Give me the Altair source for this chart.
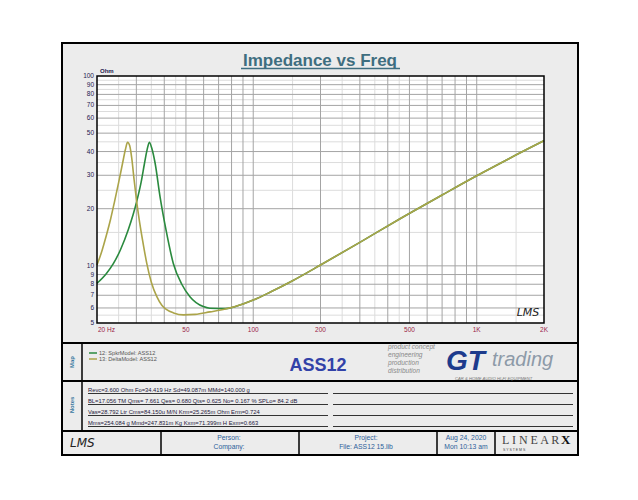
import altair as alt
import pandas as pd

# ---------------- data ----------------
spkr_freq = [20, 22, 23.7, 25.5, 27.6, 29, 30.1, 31.5, 32.6, 33.5, 34.3, 35.2, 36.4, 38.3, 40.7,
             43.9, 47.9, 52.1, 59.8, 64, 75, 90, 100, 120, 150, 200, 300, 450, 700, 1000, 1400, 2000]
spkr_z = [8.1, 9.1, 10.3, 12.2, 15.5, 18.6, 21.8, 27.5, 34.5, 40.8, 44.8, 41.5, 34.7, 23.1, 15.5,
          10.3, 8.0, 6.88, 6.1, 5.98, 5.95, 6.3, 6.6, 7.3, 8.35, 10.1, 13.3, 17.6, 23.6, 29.8, 36.8, 45.6]

delta_freq = [20, 21, 22, 23, 24, 25, 26, 26.8, 27.4, 28, 28.6, 29.3, 30.1, 31.4, 32.4, 33.4,
              35, 37, 39, 41, 44, 48.7, 55, 64, 75, 90, 100, 120, 150, 200, 300, 450, 700, 1000, 1400, 2000]
delta_z = [10.1, 11.9, 14.4, 17.6, 22, 27.5, 34.5, 41, 44.8, 43, 37, 28.5, 21.8, 15.5, 12.5, 10.3,
           8.2, 6.9, 6.2, 5.88, 5.65, 5.52, 5.55, 5.72, 5.92, 6.3, 6.6, 7.3, 8.35, 10.1, 13.3, 17.6, 23.6, 29.8, 36.8, 45.6]

x_major = [30, 40, 50, 60, 70, 80, 90, 100, 200, 300, 400, 500, 600, 700, 800, 900, 1000]
x_minor = [25, 35, 45, 150, 250, 350, 450, 1500]
y_major = [6, 7, 8, 9, 10, 20, 30, 40, 50, 60, 70, 80, 90]
y_minor = [5.5, 15, 25, 35, 45, 55, 65, 75, 85, 95]

x_tick_vals = [50, 100, 200, 500, 1000, 2000]
x_tick_text = ["50", "100", "200", "500", "1K", "2K"]
y_tick_vals = [100, 90, 80, 70, 60, 50, 40, 30, 20, 10, 9, 8, 7, 6, 5]

notes = [
    "Revc=3.600 Ohm  Fo=34.419 Hz  Sd=49.087m  MMd=140.000 g",
    "BL=17.056 TM  Qms= 7.661  Qes= 0.680  Qts= 0.625  No= 0.167 %  SPLo= 84.2 dB",
    "Vas=28.792 Ltr  Cms=84.150u M/N  Krm=25.265m Ohm  Erm=0.724",
    "Mms=254.084 g  Mmd=247.831m Kg  Kxm=71.399m H  Exm=0.663",
]
legend_names = ["12: SpkrModel: ASS12", "13: DeltaModel: ASS12"]

# ---------------- layout helpers ----------------
PW, PH = 447, 247          # plot area
OX, OY = 97, 76            # plot origin on the page
FONT = "Liberation Sans"
GREEN = "#2a8a3e"
OLIVE = "#aba449"

one = pd.DataFrame({"k": [0]})
xs = alt.Scale(type="log", domain=[20, 2000], nice=False)
ys = alt.Scale(type="log", domain=[5, 100], nice=False)


def box(x1, y1, x2, y2, fill=None, stroke=None, sw=1):
    kw = {}
    if fill is not None:
        kw["fill"] = fill
    else:
        kw["fillOpacity"] = 0
    if stroke is not None:
        kw["stroke"] = stroke
        kw["strokeWidth"] = sw
    return alt.Chart(one).mark_rect(**kw).encode(
        x=alt.value(x1 - OX), x2=alt.value(x2 - OX),
        y=alt.value(y1 - OY), y2=alt.value(y2 - OY))


def hline(x1, x2, y, color="black", sw=1):
    return alt.Chart(one).mark_rule(color=color, strokeWidth=sw).encode(
        x=alt.value(x1 - OX), x2=alt.value(x2 - OX), y=alt.value(y - OY))


def vline(x, y1, y2, color="black", sw=1):
    return alt.Chart(one).mark_rule(color=color, strokeWidth=sw).encode(
        x=alt.value(x - OX), y=alt.value(y1 - OY), y2=alt.value(y2 - OY))


def txt(s, x, y, size=7, color="black", align="left", baseline="middle",
        weight="normal", style="normal", font=FONT, angle=0):
    kw = dict(fontSize=size, color=color, align=align, baseline=baseline,
              fontWeight=weight, fontStyle=style, font=font)
    if angle:
        kw["angle"] = angle
    return alt.Chart(one).mark_text(**kw).encode(
        x=alt.value(x - OX), y=alt.value(y - OY), text=alt.value(s))


layers = []

# outer frame
layers.append(box(62, 43, 578, 455, fill="#ececec", stroke="black", sw=2))
layers.append(box(OX, OY, OX + PW, OY + PH, fill="white"))

# grid
gminor_x = pd.DataFrame({"f": x_minor})
gmajor_x = pd.DataFrame({"f": x_major})
gminor_y = pd.DataFrame({"z": y_minor})
gmajor_y = pd.DataFrame({"z": y_major})
layers.append(alt.Chart(gminor_x).mark_rule(color="#dcdcdc", strokeWidth=1).encode(
    x=alt.X("f:Q", scale=xs, axis=None), y=alt.value(0), y2=alt.value(PH)))
layers.append(alt.Chart(gminor_y).mark_rule(color="#dcdcdc", strokeWidth=1).encode(
    y=alt.Y("z:Q", scale=ys, axis=None), x=alt.value(0), x2=alt.value(PW)))
layers.append(alt.Chart(gmajor_x).mark_rule(color="#a4a4a4", strokeWidth=1).encode(
    x=alt.X("f:Q", scale=xs, axis=None), y=alt.value(0), y2=alt.value(PH)))
layers.append(alt.Chart(gmajor_y).mark_rule(color="#a4a4a4", strokeWidth=1).encode(
    y=alt.Y("z:Q", scale=ys, axis=None), x=alt.value(0), x2=alt.value(PW)))

# curves
spkr = pd.DataFrame({"f": spkr_freq, "z": spkr_z})
delta = pd.DataFrame({"f": delta_freq, "z": delta_z})
layers.append(alt.Chart(spkr).mark_line(color=GREEN, strokeWidth=1.6, interpolate="monotone").encode(
    x=alt.X("f:Q", scale=xs, axis=None), y=alt.Y("z:Q", scale=ys, axis=None)))
layers.append(alt.Chart(delta).mark_line(color=OLIVE, strokeWidth=1.6, interpolate="monotone").encode(
    x=alt.X("f:Q", scale=xs, axis=None), y=alt.Y("z:Q", scale=ys, axis=None)))

# plot border
layers.append(box(OX, OY, OX + PW, OY + PH, stroke="black", sw=1.5))

# axis labels
ylab = pd.DataFrame({"z": y_tick_vals, "t": [str(v) for v in y_tick_vals]})
layers.append(alt.Chart(ylab).mark_text(fontSize=6.5, color="#1e2050", align="right",
                                         baseline="middle", font=FONT).encode(
    y=alt.Y("z:Q", scale=ys, axis=None), x=alt.value(-3), text="t:N"))
xlab = pd.DataFrame({"f": x_tick_vals, "t": x_tick_text})
layers.append(alt.Chart(xlab).mark_text(fontSize=6.5, color="#9a2448", align="center",
                                         baseline="middle", font=FONT).encode(
    x=alt.X("f:Q", scale=xs, axis=None), y=alt.value(PH + 7), text="t:N"))
layers.append(txt("20  Hz", 98, OY + PH + 7, size=6.5, color="#9a2448"))
layers.append(txt("Ohm", 100, 71, size=6, color="#1e2050", weight="bold"))

# title
layers.append(txt("Impedance vs Freq", 320, 66, size=17, color="#3e6e80", align="center",
                  baseline="alphabetic", weight="bold"))
layers.append(hline(241, 400, 68.5, color="#3e6e80", sw=1.5))

# signature inside plot
layers.append(txt("LMS", 528, 313, size=11, color="#222", align="center", style="italic",
                  font="DejaVu Sans"))

# separators
layers.append(hline(62, 578, 343, sw=2))
layers.append(hline(62, 578, 381, sw=2))
layers.append(hline(62, 578, 431, sw=2))
layers.append(vline(82, 343, 431, sw=1.5))

# map panel
layers.append(txt("Map", 72, 362, size=6, color="#3a7aa0", align="center", angle=270, weight="bold"))
layers.append(hline(89, 97, 353, color=GREEN, sw=1.5))
layers.append(hline(89, 97, 359, color=OLIVE, sw=1.5))
layers.append(txt(legend_names[0], 99, 353, size=5.6, color="#555"))
layers.append(txt(legend_names[1], 99, 359, size=5.6, color="#555"))
layers.append(txt("ASS12", 318, 366, size=18, color="#3242a8", align="center", weight="bold"))

# GT trading logo (text approximation)
for s, yy in zip(["product concept", "engineering", "production", "distribution"], [347, 355, 363, 371]):
    layers.append(txt(s, 388, yy, size=6.6, color="#8a8a8a", style="italic"))
layers.append(txt("GT", 446, 370, size=28, color="#1d3b8c", weight="bold", style="italic",
                  baseline="alphabetic"))
layers.append(txt("trading", 492, 366, size=20, color="#8d9aa8", style="italic", baseline="alphabetic"))
layers.append(txt("CAR & HOME AUDIO HI-FI EQUIPMENT", 455, 379, size=4.2, color="#777", style="italic"))

# notes panel
layers.append(txt("Notes", 72, 405, size=6, color="#3a7aa0", align="center", angle=270, weight="bold"))
for i, (s, yy) in enumerate(zip(notes, [392, 403, 414, 425])):
    layers.append(txt(s, 88, yy, size=5.8, color="#1e2040", baseline="alphabetic"))
    layers.append(hline(88, 328, yy + 1.5, color="#333", sw=1))
    layers.append(hline(333, 573, yy + 1.5, color="#333", sw=1))

# footer
for xv in [161, 299, 437, 495]:
    layers.append(vline(xv, 431, 455, sw=1.5))
layers.append(txt("LMS", 70, 443, size=12, color="#222", style="italic", font="DejaVu Sans"))
layers.append(txt("Person:", 229, 438, size=6.8, color="#2d5f9a", align="center"))
layers.append(txt("Company:", 229, 447, size=6.8, color="#2d5f9a", align="center"))
layers.append(txt("Project:", 366, 438, size=6.8, color="#2d5f9a", align="center"))
layers.append(txt("File: ASS12 15.lib", 366, 447, size=6.8, color="#2d5f9a", align="center"))
layers.append(txt("Aug 24, 2020", 466, 438, size=6.8, color="#2d5f9a", align="center"))
layers.append(txt("Mon 10:13 am", 466, 447, size=6.8, color="#2d5f9a", align="center"))
layers.append(txt("L I N E A R", 502, 440, size=12, color="#444", font="Liberation Serif"))
layers.append(txt("X", 561, 440, size=13, color="#111", weight="bold", font="Liberation Serif"))
layers.append(txt("S   Y   S   T   E   M   S", 503, 450, size=3.5, color="#444"))

chart = alt.layer(*layers).properties(
    width=PW, height=PH,
    autosize=alt.AutoSizeParams(type="none"),
    padding={"left": OX - 8, "top": OY - 8, "right": 622 - (OX - 8) - PW, "bottom": 484 - (OY - 8) - PH},
    background="white",
).configure_view(stroke=None)

chart.save("out.html", embed_options={"renderer": "svg", "actions": False})
